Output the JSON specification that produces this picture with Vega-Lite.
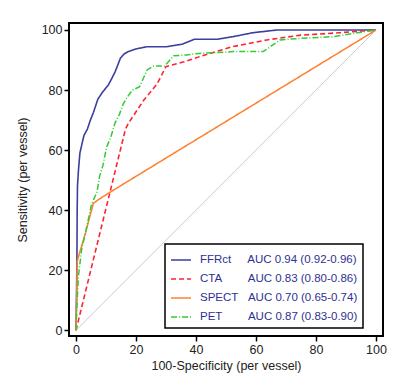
{
  "$schema": "https://vega.github.io/schema/vega-lite/v6.json",
  "width": 314,
  "height": 313,
  "autosize": {"type": "none"},
  "padding": {"left": 69, "top": 23, "right": 33, "bottom": 50},
  "background": "white",
  "config": {
    "font": "Liberation Sans",
    "view": {"stroke": "black", "strokeWidth": 2},
    "legend": {
      "padding": 5,
      "rowPadding": 2,
      "strokeColor": "black",
      "strokeWidth": 1.5,
      "fillColor": "white",
      "symbolType": "stroke",
      "symbolSize": 400,
      "symbolStrokeWidth": 1.5,
      "labelFontSize": 11.5,
      "labelColor": "#2E3192",
      "labelOffset": 8,
      "labelLimit": 0
    }
  },
  "datasets": {
    "curves": [
      {"series": "FFRct", "x": 0, "y": 0},
      {"series": "FFRct", "x": 0.15, "y": 10},
      {"series": "FFRct", "x": 0.3, "y": 22},
      {"series": "FFRct", "x": 0.4, "y": 40},
      {"series": "FFRct", "x": 0.5, "y": 48},
      {"series": "FFRct", "x": 0.8, "y": 53},
      {"series": "FFRct", "x": 1.3, "y": 59},
      {"series": "FFRct", "x": 2.2, "y": 63},
      {"series": "FFRct", "x": 2.7, "y": 65},
      {"series": "FFRct", "x": 3.8, "y": 67},
      {"series": "FFRct", "x": 4.8, "y": 70},
      {"series": "FFRct", "x": 5.8, "y": 72.5},
      {"series": "FFRct", "x": 7.3, "y": 77},
      {"series": "FFRct", "x": 9, "y": 79.5},
      {"series": "FFRct", "x": 10.8, "y": 81.7},
      {"series": "FFRct", "x": 12, "y": 84},
      {"series": "FFRct", "x": 13, "y": 86},
      {"series": "FFRct", "x": 14, "y": 88.5},
      {"series": "FFRct", "x": 14.8, "y": 90.6},
      {"series": "FFRct", "x": 16, "y": 92},
      {"series": "FFRct", "x": 17.4, "y": 92.8},
      {"series": "FFRct", "x": 20, "y": 93.7},
      {"series": "FFRct", "x": 23.5, "y": 94.4},
      {"series": "FFRct", "x": 30, "y": 94.4},
      {"series": "FFRct", "x": 35.5, "y": 95.3},
      {"series": "FFRct", "x": 39.4, "y": 96.9},
      {"series": "FFRct", "x": 47, "y": 96.9},
      {"series": "FFRct", "x": 52.4, "y": 97.8},
      {"series": "FFRct", "x": 59, "y": 99.1},
      {"series": "FFRct", "x": 67, "y": 100},
      {"series": "FFRct", "x": 100, "y": 100},
      {"series": "CTA", "x": 0, "y": 0},
      {"series": "CTA", "x": 16.5, "y": 67},
      {"series": "CTA", "x": 17.5, "y": 69},
      {"series": "CTA", "x": 22.5, "y": 76.5},
      {"series": "CTA", "x": 27, "y": 82},
      {"series": "CTA", "x": 30, "y": 87.8},
      {"series": "CTA", "x": 36, "y": 89.4},
      {"series": "CTA", "x": 42, "y": 91.4},
      {"series": "CTA", "x": 52, "y": 94.4},
      {"series": "CTA", "x": 63.6, "y": 96.7},
      {"series": "CTA", "x": 75, "y": 98.3},
      {"series": "CTA", "x": 88, "y": 99.1},
      {"series": "CTA", "x": 100, "y": 100},
      {"series": "SPECT", "x": 0, "y": 0},
      {"series": "SPECT", "x": 0.2, "y": 10},
      {"series": "SPECT", "x": 0.4, "y": 23},
      {"series": "SPECT", "x": 1.8, "y": 27.8},
      {"series": "SPECT", "x": 3.2, "y": 32.5},
      {"series": "SPECT", "x": 4.5, "y": 37.5},
      {"series": "SPECT", "x": 5.8, "y": 42.3},
      {"series": "SPECT", "x": 7.5, "y": 43.5},
      {"series": "SPECT", "x": 11.2, "y": 45.9},
      {"series": "SPECT", "x": 100, "y": 100},
      {"series": "PET", "x": 0, "y": 0},
      {"series": "PET", "x": 0.4, "y": 10},
      {"series": "PET", "x": 0.8, "y": 18},
      {"series": "PET", "x": 1.9, "y": 27},
      {"series": "PET", "x": 3.6, "y": 34.5},
      {"series": "PET", "x": 5.2, "y": 42},
      {"series": "PET", "x": 7, "y": 46},
      {"series": "PET", "x": 7.8, "y": 51},
      {"series": "PET", "x": 9, "y": 55},
      {"series": "PET", "x": 10.2, "y": 61},
      {"series": "PET", "x": 11.5, "y": 64},
      {"series": "PET", "x": 13, "y": 69},
      {"series": "PET", "x": 14.5, "y": 72},
      {"series": "PET", "x": 15.8, "y": 75.5},
      {"series": "PET", "x": 17, "y": 77.5},
      {"series": "PET", "x": 18.8, "y": 80},
      {"series": "PET", "x": 21.2, "y": 81.1},
      {"series": "PET", "x": 23.7, "y": 86.7},
      {"series": "PET", "x": 25.9, "y": 88},
      {"series": "PET", "x": 29.5, "y": 88},
      {"series": "PET", "x": 32.6, "y": 91.4},
      {"series": "PET", "x": 36.7, "y": 91.7},
      {"series": "PET", "x": 41, "y": 92.2},
      {"series": "PET", "x": 52.4, "y": 92.8},
      {"series": "PET", "x": 62.4, "y": 92.8},
      {"series": "PET", "x": 68, "y": 96.7},
      {"series": "PET", "x": 74.7, "y": 97.2},
      {"series": "PET", "x": 85.8, "y": 97.8},
      {"series": "PET", "x": 91.3, "y": 98.7},
      {"series": "PET", "x": 100, "y": 100}
    ],
    "diag": [{"x": 0, "y": 0, "x2": 100, "y2": 100}]
  },
  "layer": [
    {
      "data": {"name": "diag"},
      "mark": {"type": "rule", "color": "#cccccc", "strokeWidth": 1},
      "encoding": {
        "x": {
          "field": "x", "type": "quantitative",
          "scale": {"domain": [-2.33, 102.33], "nice": false, "zero": false},
          "axis": {
            "orient": "bottom",
            "values": [0, 5, 10, 15, 20, 25, 30, 35, 40, 45, 50, 55, 60, 65, 70, 75, 80, 85, 90, 95, 100],
            "labelExpr": "datum.value % 20 === 0 ? datum.label : ''",
            "tickSize": 5, "tickColor": "#000000",
            "tickWidth": {"condition": {"test": "datum.value % 20 === 0", "value": 1.5}, "value": 1},
            "tickDash": {"condition": {"test": "datum.value % 20 === 0", "value": [5, 0]}, "value": [3, 10]},
            "domain": false, "grid": false,
            "labelFontSize": 12.5, "labelColor": "#222222", "labelPadding": 2,
            "title": "100-Specificity (per vessel)", "titleFontSize": 12.5,
            "titleFontWeight": "normal", "titleColor": "#222222", "titlePadding": 4
          }
        },
        "y": {
          "field": "y", "type": "quantitative",
          "scale": {"domain": [-1.9, 102.33], "nice": false, "zero": false},
          "axis": {
            "orient": "left",
            "values": [0, 5, 10, 15, 20, 25, 30, 35, 40, 45, 50, 55, 60, 65, 70, 75, 80, 85, 90, 95, 100],
            "labelExpr": "datum.value % 20 === 0 ? datum.label : ''",
            "tickSize": 5, "tickColor": "#000000",
            "tickWidth": {"condition": {"test": "datum.value % 20 === 0", "value": 1.5}, "value": 1},
            "tickDash": {"condition": {"test": "datum.value % 20 === 0", "value": [5, 0]}, "value": [3, 10]},
            "domain": false, "grid": false,
            "labelFontSize": 12.5, "labelColor": "#222222", "labelPadding": 2,
            "title": "Sensitivity (per vessel)", "titleFontSize": 12.5,
            "titleFontWeight": "normal", "titleColor": "#222222", "titlePadding": 12
          }
        },
        "x2": {"field": "x2"},
        "y2": {"field": "y2"}
      }
    },
    {
      "data": {"name": "curves"},
      "mark": {"type": "line"},
      "encoding": {
        "x": {"field": "x", "type": "quantitative"},
        "y": {"field": "y", "type": "quantitative"},
        "color": {
          "field": "series", "type": "nominal",
          "scale": {"domain": ["FFRct", "CTA", "SPECT", "PET"], "range": ["#3B3F9E", "#FF2030", "#FF8030", "#33CC33"]},
          "legend": {
            "orient": "none", "legendX": 96, "legendY": 221, "title": null,
            "labelExpr": "{'FFRct': 'FFRct\u00a0\u00a0\u00a0\u00a0\u00a0AUC 0.94 (0.92-0.96)\u00a0\u00a0\u00a0\u00a0\u00a0\u00a0', 'CTA': 'CTA\u00a0\u00a0\u00a0\u00a0\u00a0\u00a0\u00a0\u00a0AUC 0.83 (0.80-0.86)\u00a0\u00a0\u00a0\u00a0\u00a0\u00a0', 'SPECT': 'SPECT\u00a0\u00a0\u00a0AUC 0.70 (0.65-0.74)\u00a0\u00a0\u00a0\u00a0\u00a0\u00a0', 'PET': 'PET\u00a0\u00a0\u00a0\u00a0\u00a0\u00a0\u00a0\u00a0AUC 0.87 (0.83-0.90)\u00a0\u00a0\u00a0\u00a0\u00a0\u00a0'}[datum.label]"
          }
        },
        "strokeDash": {
          "field": "series", "type": "nominal",
          "scale": {"domain": ["FFRct", "CTA", "SPECT", "PET"], "range": [[1, 0], [5, 3], [1, 0], [6, 2, 1, 2]]},
          "legend": {
            "orient": "none", "legendX": 96, "legendY": 221, "title": null
          }
        },
        "strokeWidth": {
          "field": "series", "type": "nominal",
          "scale": {"domain": ["FFRct", "CTA", "SPECT", "PET"], "range": [1.6, 1.5, 2, 1.2]},
          "legend": null
        }
      }
    }
  ]
}
